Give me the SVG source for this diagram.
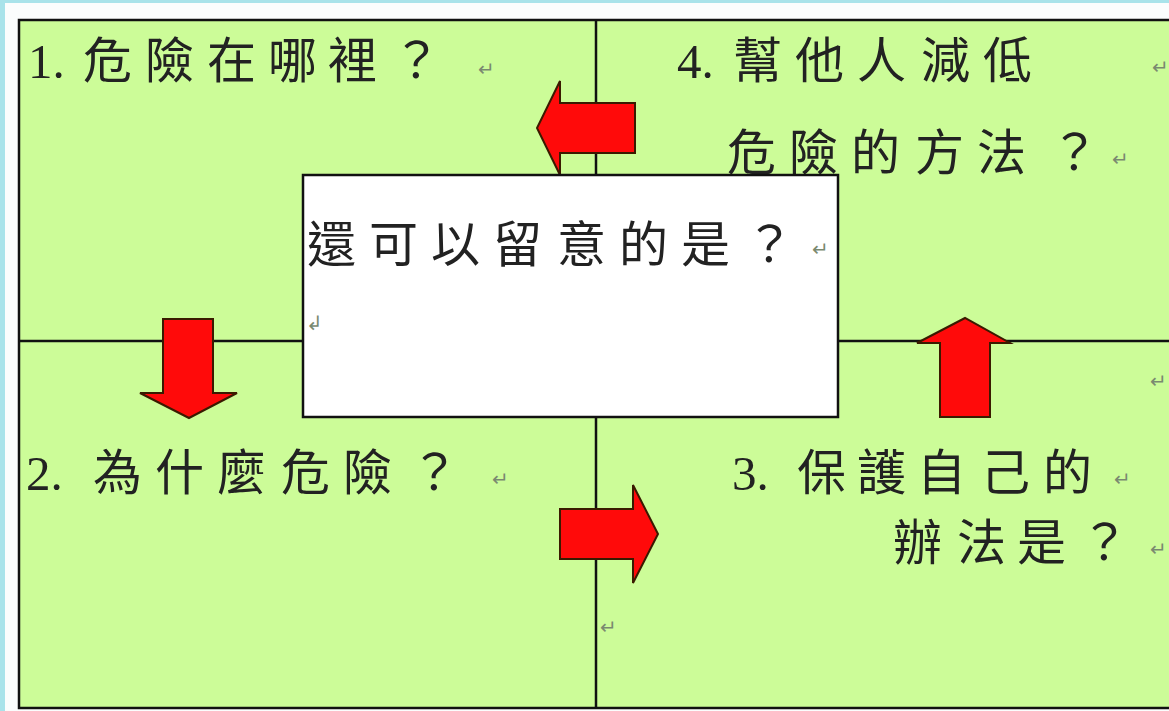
<svg xmlns="http://www.w3.org/2000/svg" width="1169" height="711" viewBox="0 0 1169 711">
<style>
.t{font-family:"Liberation Serif","Noto Sans CJK TC",serif;font-size:49px;fill:#222}
.r{font-family:"Liberation Sans","Noto Sans CJK TC",sans-serif;font-size:20px;fill:#7a8a70}
.cell{fill:#ccfc98}
.grid{stroke:#111;stroke-width:2.5;fill:none}
.arrow{fill:#ff0a0a;stroke:#3a1a00;stroke-width:2;stroke-linejoin:miter}
</style>
<rect x="0" y="0" width="1169" height="711" fill="#a9e3ea"/>
<rect x="5" y="3" width="1164" height="708" fill="#fbfdfd"/>
<g id="table">
<rect class="cell" x="19" y="20" width="1152" height="688"/>
<rect class="grid" x="19" y="20" width="1160" height="688"/>
<line class="grid" x1="596" y1="20" x2="596" y2="708"/>
<line class="grid" x1="19" y1="341" x2="1169" y2="341"/>
</g>
<g id="q1">
<text class="t" x="28" y="78">1.</text>
<text class="t" x="83 145 207 268 328 392" y="78">危險在哪裡？</text>
<text class="r" x="478" y="76">↵</text>
</g>
<g id="q4">
<text class="t" x="677" y="78">4.</text>
<text class="t" x="733 795 857 921 983" y="78">幫他人減低</text>
<text class="r" x="1152" y="74">↵</text>
<text class="t" x="727 789 851 915 977 1050" y="170">危險的方法？</text>
<text class="r" x="1112" y="166">↵</text>
</g>
<g id="q2">
<text class="t" x="26" y="490">2.</text>
<text class="t" x="93 155 217 281 343 410" y="490">為什麼危險？</text>
<text class="r" x="492" y="486">↵</text>
</g>
<g id="q3">
<text class="t" x="732" y="490">3.</text>
<text class="t" x="797 857 917 981 1043" y="490">保護自己的</text>
<text class="r" x="1114" y="486">↵</text>
<text class="t" x="893 957 1017 1080" y="560">辦法是？</text>
<text class="r" x="1150" y="556">↵</text>
<text class="r" x="1150" y="388">↵</text>
<text class="r" x="600" y="634">↵</text>
</g>
<g id="connectors">
<polygon class="arrow" points="635,103 560,103 560,81 537,128 560,175 560,153 635,153"/>
<polygon class="arrow" points="163,319 213,319 213,393 237,393 189,418 140,393 163,393"/>
<polygon class="arrow" points="560,509 633,509 633,485 658,534 633,583 633,559 560,559"/>
<polygon class="arrow" points="940,417 990,417 990,343 1010,343 965,318 917,343 940,343"/>
</g>
<g id="center">
<rect x="303" y="175" width="535" height="242" fill="#ffffff" stroke="#111" stroke-width="2.5"/>
<text class="t" x="307 369 431 493 557 619 681 745" y="262">還可以留意的是？</text>
<text class="r" x="812" y="256">↵</text>
<text class="r" x="306" y="330" font-size="14">↲</text>
</g>
</svg>
